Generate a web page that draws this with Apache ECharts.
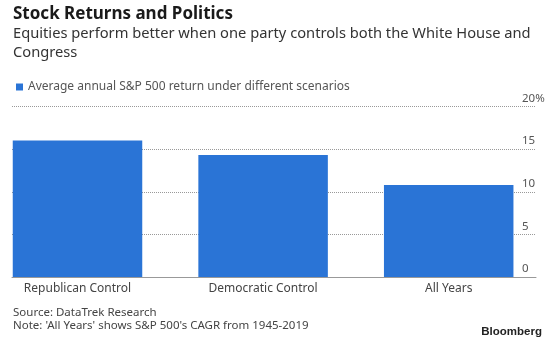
<!DOCTYPE html>
<html>
<head>
<meta charset="utf-8">
<script src="https://cdn.jsdelivr.net/npm/echarts@6/dist/echarts.min.js"></script>
<style>
  html, body { margin: 0; padding: 0; background: #fff; }
  #chart { width: 560px; height: 351px; }
</style>
</head>
<body>
<div id="chart"></div>
<script>
// data
const categories = ['Republican Control', 'Democratic Control', 'All Years'];
const returns = [16.0, 14.3, 10.8];
const spacer = [0, 0, 0]; // empty slot to the right of each bar, only shifts the bars left
const seriesName = 'Average annual S&P 500 return under different scenarios';
const yTicks = [0, 5, 10, 15, 20];

const FONT = '"Noto Sans", sans-serif';
const BLUE = '#2a74d6';

const chart = echarts.init(document.getElementById('chart'), null, { renderer: 'canvas' });

const option = {
  animation: false,
  backgroundColor: '#fff',
  textStyle: { fontFamily: FONT },
  legend: {
    left: 11, top: 76,
    icon: 'rect', itemWidth: 7, itemHeight: 7, itemGap: 5,
    textStyle: { fontSize: 12, color: '#555', fontFamily: FONT },
    data: [seriesName]
  },
  grid: [
    // gridlines, y labels and base line
    { left: 12, right: 24, top: 106.5, bottom: 74 },
    // bars
    { left: 0, right: 3.2, top: 106.5, bottom: 74 }
  ],
  xAxis: [
    {
      gridIndex: 0, type: 'category', data: categories,
      axisLine: { show: true, lineStyle: { color: '#999', width: 1 } },
      axisTick: { show: false }, axisLabel: { show: false }, splitLine: { show: false }
    },
    {
      gridIndex: 1, type: 'category', data: categories,
      axisLine: { show: false }, axisTick: { show: false },
      axisLabel: { margin: 6, fontSize: 12, color: '#444', fontFamily: FONT, padding: [0, 30.6, 0, 0] }
    }
  ],
  yAxis: [
    {
      gridIndex: 0, type: 'value', position: 'right', min: 0, max: 20, interval: 5,
      axisLine: { show: false }, axisTick: { show: false },
      splitLine: { lineStyle: { color: '#999', type: 'dotted', width: 1 } },
      axisLabel: {
        margin: -14, align: 'left', verticalAlign: 'bottom', padding: [0, 0, 2, 0],
        fontSize: 11.5, color: '#555', fontFamily: FONT,
        formatter: v => (v === yTicks[yTicks.length - 1] ? v + '%' : '' + v)
      }
    },
    {
      gridIndex: 1, type: 'value', min: 0, max: 20, interval: 5, show: false
    }
  ],
  series: [
    {
      name: seriesName, type: 'bar', xAxisIndex: 1, yAxisIndex: 1,
      data: returns, barWidth: 129.5, barGap: '0%',
      itemStyle: { color: BLUE }
    },
    {
      name: 'spacer', type: 'bar', xAxisIndex: 1, yAxisIndex: 1,
      data: spacer, barWidth: 30.6, barGap: '0%', silent: true,
      itemStyle: { color: 'rgba(0,0,0,0)' }
    }
  ],
  graphic: [
    { type: 'text', left: 13, top: 6, style: { text: 'Stock Returns and Politics', font: 'bold 17px ' + FONT, fill: '#1a1a1a' } },
    { type: 'text', left: 13, top: 25, style: { text: 'Equities perform better when one party controls both the White House and\nCongress', font: '14.7px ' + FONT, lineHeight: 18.5, fill: '#333' } },
    { type: 'text', left: 13, top: 306, style: { text: 'Source: DataTrek Research\nNote: \'All Years\' shows S&P 500\'s CAGR from 1945-2019', font: '11.5px ' + FONT, lineHeight: 13, fill: '#444' } },
    { type: 'text', right: 18, top: 326, style: { text: 'Bloomberg', font: 'bold 11.5px "Liberation Sans", Arial, sans-serif', fill: '#222' } }
  ]
};

chart.setOption(option);
</script>
</body>
</html>
